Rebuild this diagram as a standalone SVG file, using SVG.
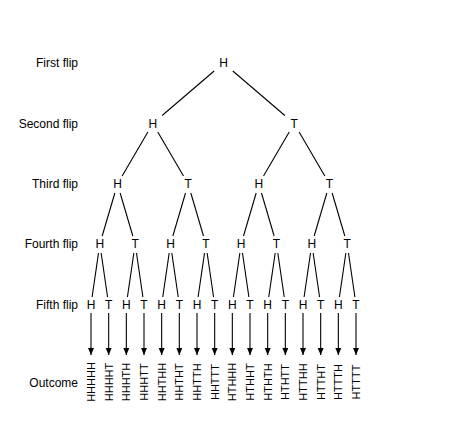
<svg xmlns="http://www.w3.org/2000/svg" width="474" height="437" viewBox="0 0 474 437">
<style>
text{font-family:"Liberation Sans","DejaVu Sans",sans-serif;fill:#000}
.n{font-size:12px;text-anchor:middle}
.lab{font-size:12px;text-anchor:end}
.o{font-size:11px;text-anchor:middle}
.e{stroke:#000;stroke-width:1.1;fill:none}
.a{stroke:#000;stroke-width:1.1;fill:none;marker-end:url(#ah)}
</style>
<defs>
<marker id="ah" markerUnits="userSpaceOnUse" markerWidth="8" markerHeight="7" refX="7" refY="3" orient="auto">
<path d="M0,0 L7,3 L0,6 z" fill="#000"/>
</marker>
</defs>
<rect width="474" height="437" fill="#fff"/>
<g id="labels">
<text class="lab" x="78" y="67.3">First flip</text>
<text class="lab" x="78" y="127.8">Second flip</text>
<text class="lab" x="78" y="188.3">Third flip</text>
<text class="lab" x="78" y="248.3">Fourth flip</text>
<text class="lab" x="78" y="308.8">Fifth flip</text>
<text class="lab" x="78" y="386.8">Outcome</text>
</g>
<g id="connectors">
<line class="e" x1="214.16" y1="71" x2="162.17" y2="115.5"/>
<line class="e" x1="232.84" y1="71" x2="284.83" y2="115.5"/>
<line class="e" x1="147.87" y1="132" x2="122.17" y2="176"/>
<line class="e" x1="157.79" y1="132" x2="183.49" y2="176"/>
<line class="e" x1="289.21" y1="132" x2="263.51" y2="176"/>
<line class="e" x1="299.13" y1="132" x2="324.83" y2="176"/>
<line class="e" x1="114.85" y1="193" x2="102.19" y2="236"/>
<line class="e" x1="120.15" y1="193" x2="132.81" y2="236"/>
<line class="e" x1="185.52" y1="193" x2="172.86" y2="236"/>
<line class="e" x1="190.82" y1="193" x2="203.48" y2="236"/>
<line class="e" x1="256.18" y1="193" x2="243.52" y2="236"/>
<line class="e" x1="261.48" y1="193" x2="274.14" y2="236"/>
<line class="e" x1="326.85" y1="193" x2="314.19" y2="236"/>
<line class="e" x1="332.15" y1="193" x2="344.81" y2="236"/>
<line class="e" x1="98.52" y1="253" x2="92.09" y2="297"/>
<line class="e" x1="101.14" y1="253" x2="107.57" y2="297"/>
<line class="e" x1="133.86" y1="253" x2="127.43" y2="297"/>
<line class="e" x1="136.48" y1="253" x2="142.91" y2="297"/>
<line class="e" x1="169.19" y1="253" x2="162.76" y2="297"/>
<line class="e" x1="171.81" y1="253" x2="178.24" y2="297"/>
<line class="e" x1="204.52" y1="253" x2="198.09" y2="297"/>
<line class="e" x1="207.14" y1="253" x2="213.57" y2="297"/>
<line class="e" x1="239.86" y1="253" x2="233.43" y2="297"/>
<line class="e" x1="242.48" y1="253" x2="248.91" y2="297"/>
<line class="e" x1="275.19" y1="253" x2="268.76" y2="297"/>
<line class="e" x1="277.81" y1="253" x2="284.24" y2="297"/>
<line class="e" x1="310.52" y1="253" x2="304.09" y2="297"/>
<line class="e" x1="313.14" y1="253" x2="319.57" y2="297"/>
<line class="e" x1="345.86" y1="253" x2="339.43" y2="297"/>
<line class="e" x1="348.48" y1="253" x2="354.91" y2="297"/>
<line class="a" x1="91" y1="313" x2="91" y2="355"/>
<line class="a" x1="108.67" y1="313" x2="108.67" y2="355"/>
<line class="a" x1="126.33" y1="313" x2="126.33" y2="355"/>
<line class="a" x1="144" y1="313" x2="144" y2="355"/>
<line class="a" x1="161.67" y1="313" x2="161.67" y2="355"/>
<line class="a" x1="179.33" y1="313" x2="179.33" y2="355"/>
<line class="a" x1="197" y1="313" x2="197" y2="355"/>
<line class="a" x1="214.67" y1="313" x2="214.67" y2="355"/>
<line class="a" x1="232.33" y1="313" x2="232.33" y2="355"/>
<line class="a" x1="250" y1="313" x2="250" y2="355"/>
<line class="a" x1="267.67" y1="313" x2="267.67" y2="355"/>
<line class="a" x1="285.33" y1="313" x2="285.33" y2="355"/>
<line class="a" x1="303" y1="313" x2="303" y2="355"/>
<line class="a" x1="320.67" y1="313" x2="320.67" y2="355"/>
<line class="a" x1="338.33" y1="313" x2="338.33" y2="355"/>
<line class="a" x1="356" y1="313" x2="356" y2="355"/>
</g>
<g id="n1"><text class="n" x="223.5" y="67.3">H</text></g>
<g id="n2H"><text class="n" x="152.83" y="127.8">H</text></g>
<g id="n2T"><text class="n" x="294.17" y="127.8">T</text></g>
<g id="n3HH"><text class="n" x="117.5" y="188.3">H</text></g>
<g id="n3HT"><text class="n" x="188.17" y="188.3">T</text></g>
<g id="n3TH"><text class="n" x="258.83" y="188.3">H</text></g>
<g id="n3TT"><text class="n" x="329.5" y="188.3">T</text></g>
<g id="n4_1"><text class="n" x="99.83" y="248.3">H</text></g>
<g id="n4_2"><text class="n" x="135.17" y="248.3">T</text></g>
<g id="n4_3"><text class="n" x="170.5" y="248.3">H</text></g>
<g id="n4_4"><text class="n" x="205.83" y="248.3">T</text></g>
<g id="n4_5"><text class="n" x="241.17" y="248.3">H</text></g>
<g id="n4_6"><text class="n" x="276.5" y="248.3">T</text></g>
<g id="n4_7"><text class="n" x="311.83" y="248.3">H</text></g>
<g id="n4_8"><text class="n" x="347.17" y="248.3">T</text></g>
<g id="n5_1"><text class="n" x="91" y="308.8">H</text></g>
<g id="n5_2"><text class="n" x="108.67" y="308.8">T</text></g>
<g id="n5_3"><text class="n" x="126.33" y="308.8">H</text></g>
<g id="n5_4"><text class="n" x="144" y="308.8">T</text></g>
<g id="n5_5"><text class="n" x="161.67" y="308.8">H</text></g>
<g id="n5_6"><text class="n" x="179.33" y="308.8">T</text></g>
<g id="n5_7"><text class="n" x="197" y="308.8">H</text></g>
<g id="n5_8"><text class="n" x="214.67" y="308.8">T</text></g>
<g id="n5_9"><text class="n" x="232.33" y="308.8">H</text></g>
<g id="n5_10"><text class="n" x="250" y="308.8">T</text></g>
<g id="n5_11"><text class="n" x="267.67" y="308.8">H</text></g>
<g id="n5_12"><text class="n" x="285.33" y="308.8">T</text></g>
<g id="n5_13"><text class="n" x="303" y="308.8">H</text></g>
<g id="n5_14"><text class="n" x="320.67" y="308.8">T</text></g>
<g id="n5_15"><text class="n" x="338.33" y="308.8">H</text></g>
<g id="n5_16"><text class="n" x="356" y="308.8">T</text></g>
<g id="outcomes">
<text class="o" transform="translate(91,382) rotate(-90)" x="0" y="4">HHHHH</text>
<text class="o" transform="translate(108.67,382) rotate(-90)" x="0" y="4">HHHHT</text>
<text class="o" transform="translate(126.33,382) rotate(-90)" x="0" y="4">HHHTH</text>
<text class="o" transform="translate(144,382) rotate(-90)" x="0" y="4">HHHTT</text>
<text class="o" transform="translate(161.67,382) rotate(-90)" x="0" y="4">HHTHH</text>
<text class="o" transform="translate(179.33,382) rotate(-90)" x="0" y="4">HHTHT</text>
<text class="o" transform="translate(197,382) rotate(-90)" x="0" y="4">HHTTH</text>
<text class="o" transform="translate(214.67,382) rotate(-90)" x="0" y="4">HHTTT</text>
<text class="o" transform="translate(232.33,382) rotate(-90)" x="0" y="4">HTHHH</text>
<text class="o" transform="translate(250,382) rotate(-90)" x="0" y="4">HTHHT</text>
<text class="o" transform="translate(267.67,382) rotate(-90)" x="0" y="4">HTHTH</text>
<text class="o" transform="translate(285.33,382) rotate(-90)" x="0" y="4">HTHTT</text>
<text class="o" transform="translate(303,382) rotate(-90)" x="0" y="4">HTTHH</text>
<text class="o" transform="translate(320.67,382) rotate(-90)" x="0" y="4">HTTHT</text>
<text class="o" transform="translate(338.33,382) rotate(-90)" x="0" y="4">HTTTH</text>
<text class="o" transform="translate(356,382) rotate(-90)" x="0" y="4">HTTTT</text>
</g>
</svg>
